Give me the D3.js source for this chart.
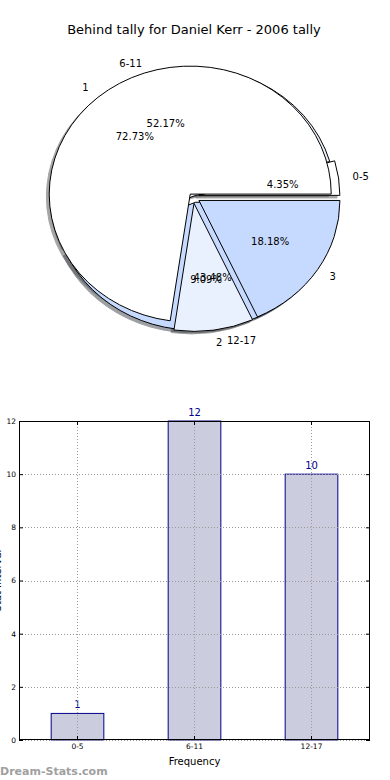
<!DOCTYPE html>
<html>
<head>
<meta charset="utf-8">
<script src="https://cdn.jsdelivr.net/npm/d3@7"></script>
<style>
  body { margin: 0; background: #fff; }
  text { font-family: "DejaVu Sans", sans-serif; }
</style>
</head>
<body>
<script>
// data
var titleText = "Behind tally for Daniel Kerr - 2006 tally";
var rangeLabels = ["0-5", "6-11", "12-17"];
var rangeCounts = [1, 12, 10];
var tallyLabels = ["1", "2", "3"];
var tallyCounts = [8, 1, 2];
var yTicks = [0, 2, 4, 6, 8, 10, 12];
var xTitle = "Frequency";
var yTitle = "Stat Interval";

// dimensions
var width = 390;
var height = 780;

var svg = d3.select("body")
    .append("svg")
    .attr("width", width)
    .attr("height", height);

svg.append("text")
    .attr("x", 194)
    .attr("y", 34)
    .attr("text-anchor", "middle")
    .style("font-size", "13px")
    .style("fill", "#000")
    .text(titleText);

// ---- pie part (two pies drawn on the same axes, like the original) ----
var rx = 141, ry = 128;
var sliceColors = ["#ffffff", "#eaf1fe", "#c6d9fe"];

var pies = [
    { labels: rangeLabels, values: rangeCounts, cx: 194, cy: 196, explode: [0.035, 0, 0.05] },
    { labels: tallyLabels, values: tallyCounts, cx: 193, cy: 197, explode: [0.03, 0.05, 0.05] }
];

// matplotlib style: start at 3 o'clock, go counter clockwise
var pie = d3.pie()
    .sort(null)
    .startAngle(Math.PI / 2)
    .endAngle(Math.PI / 2 - 2 * Math.PI);

var arc = d3.arc().innerRadius(0).outerRadius(100);

pies.forEach(function(p) {
    var total = d3.sum(p.values);
    p.arcs = pie(p.values).map(function(a, i) {
        var mid = (a.startAngle + a.endAngle) / 2;
        var ux = Math.sin(mid), uy = -Math.cos(mid);
        var e = p.explode[i];
        return {
            arc: a,
            label: p.labels[i],
            pct: d3.format(".2f")(a.value / total * 100) + "%",
            color: sliceColors[i % sliceColors.length],
            ox: p.cx + e * ux * rx,
            oy: p.cy + e * uy * ry,
            ux: ux,
            uy: uy
        };
    });
});

var all = pies[0].arcs.concat(pies[1].arcs);
var pieG = svg.append("g");

// shadows go below every wedge
all.forEach(function(d) {
    var c = d3.color(d.color);
    var sh = d3.rgb(c.r * 0.3, c.g * 0.3, c.b * 0.3);
    pieG.append("path")
        .attr("d", arc(d.arc))
        .attr("transform", "translate(" + (d.ox - 0.02 * rx) + "," + (d.oy + 0.02 * ry) + ") scale(" + rx / 100 + "," + ry / 100 + ")")
        .attr("fill", sh)
        .attr("stroke", sh)
        .attr("vector-effect", "non-scaling-stroke")
        .attr("opacity", 0.5);
});

all.forEach(function(d) {
    pieG.append("path")
        .attr("d", arc(d.arc))
        .attr("transform", "translate(" + d.ox + "," + d.oy + ") scale(" + rx / 100 + "," + ry / 100 + ")")
        .attr("fill", d.color)
        .attr("stroke", "#000")
        .attr("stroke-width", 1)
        .attr("stroke-linejoin", "miter")
        .attr("vector-effect", "non-scaling-stroke");
});

// labels
all.forEach(function(d) {
    pieG.append("text")
        .attr("x", d.ox + 1.1 * rx * d.ux)
        .attr("y", d.oy + 1.1 * ry * d.uy)
        .attr("dy", "0.35em")
        .attr("text-anchor", d.ux > 0 ? "start" : "end")
        .style("font-size", "10px")
        .text(d.label);
    pieG.append("text")
        .attr("x", d.ox + 0.6 * rx * d.ux)
        .attr("y", d.oy + 0.6 * ry * d.uy)
        .attr("dy", "0.35em")
        .attr("text-anchor", "middle")
        .style("font-size", "10px")
        .text(d.pct);
});

// ---- bar part ----
var plot = { left: 19, right: 370, top: 421, bottom: 740 };

var x = d3.scaleBand()
    .domain(rangeLabels)
    .range([plot.left, plot.right])
    .paddingInner(0.55)
    .paddingOuter(0.275);

var y = d3.scaleLinear()
    .domain([0, 12])
    .range([plot.bottom, plot.top]);

var bars = svg.append("g");

bars.selectAll(".bar")
    .data(rangeCounts)
    .enter()
    .append("rect")
    .attr("class", "bar")
    .attr("x", function(d, i) { return x(rangeLabels[i]); })
    .attr("y", function(d) { return y(d); })
    .attr("width", x.bandwidth())
    .attr("height", function(d) { return y(0) - y(d); })
    .attr("fill", "#ccccdf")
    .attr("stroke", "#000088")
    .attr("stroke-width", 1);

// grid on top of bars (matplotlib classic)
var grid = svg.append("g")
    .attr("stroke", "#9a9a9a")
    .attr("stroke-width", 1)
    .attr("stroke-dasharray", "1,2");

grid.selectAll(".hgrid")
    .data(yTicks)
    .enter()
    .append("line")
    .attr("x1", plot.left)
    .attr("x2", plot.right)
    .attr("y1", function(d) { return Math.round(y(d)) + 0.5; })
    .attr("y2", function(d) { return Math.round(y(d)) + 0.5; });

grid.selectAll(".vgrid")
    .data(rangeLabels)
    .enter()
    .append("line")
    .attr("x1", function(d) { return Math.round(x(d) + x.bandwidth() / 2) + 0.5; })
    .attr("x2", function(d) { return Math.round(x(d) + x.bandwidth() / 2) + 0.5; })
    .attr("y1", plot.top)
    .attr("y2", plot.bottom);

// value labels
bars.selectAll(".val")
    .data(rangeCounts)
    .enter()
    .append("text")
    .attr("x", function(d, i) { return x(rangeLabels[i]) + x.bandwidth() / 2; })
    .attr("y", function(d) { return y(d) - 5; })
    .attr("text-anchor", "middle")
    .style("font-size", "10px")
    .style("fill", "#000088")
    .text(function(d) { return d; });

// axes with inward ticks
var axisL = svg.append("g")
    .attr("transform", "translate(" + plot.left + ",0)")
    .call(d3.axisLeft(y).tickValues(yTicks).tickSizeInner(-4).tickSizeOuter(0).tickPadding(3));
var axisR = svg.append("g")
    .attr("transform", "translate(" + plot.right + ",0)")
    .call(d3.axisRight(y).tickValues(yTicks).tickSizeInner(-4).tickSizeOuter(0).tickFormat(""));
var axisB = svg.append("g")
    .attr("transform", "translate(0," + plot.bottom + ")")
    .call(d3.axisBottom(x).tickSizeInner(-4).tickSizeOuter(0).tickPadding(4));
var axisT = svg.append("g")
    .attr("transform", "translate(0," + plot.top + ")")
    .call(d3.axisTop(x).tickSizeInner(-4).tickSizeOuter(0).tickFormat(""));

[axisL, axisR, axisB, axisT].forEach(function(a) {
    a.select(".domain").remove();
    a.selectAll("text")
        .style("font-family", "DejaVu Sans, sans-serif")
        .style("font-size", "7.5px")
        .attr("fill", "#000");
    a.selectAll("line").attr("stroke", "#000");
});

svg.append("rect")
    .attr("x", plot.left + 0.5)
    .attr("y", plot.top + 0.5)
    .attr("width", plot.right - plot.left - 1)
    .attr("height", plot.bottom - plot.top - 1)
    .attr("fill", "none")
    .attr("stroke", "#000")
    .attr("stroke-width", 1);

svg.append("text")
    .attr("x", (plot.left + plot.right) / 2)
    .attr("y", 765)
    .attr("text-anchor", "middle")
    .style("font-size", "10px")
    .text(xTitle);

// y title is mostly cut off at the left edge in the original
svg.append("text")
    .attr("transform", "translate(1," + (plot.top + plot.bottom) / 2 + ") rotate(-90)")
    .attr("text-anchor", "middle")
    .style("font-size", "10px")
    .text(yTitle);

// watermark
svg.append("text")
    .attr("x", 0)
    .attr("y", 775)
    .style("font-size", "11px")
    .style("font-weight", "bold")
    .style("fill", "#a0a0a0")
    .text("Dream-Stats.com");
</script>
</body>
</html>
